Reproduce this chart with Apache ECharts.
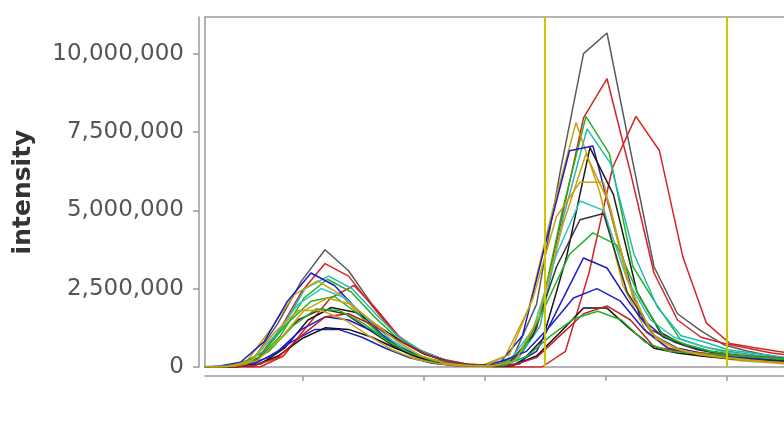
<!DOCTYPE html>
<html>
<head>
<meta charset="utf-8">
<script src="https://cdn.jsdelivr.net/npm/echarts@6/dist/echarts.min.js"></script>
<style>html,body{margin:0;padding:0;background:#fff;}#c{width:784px;height:428px;}</style>
</head>
<body>
<div id="c"></div>
<script>
// retention time (min) axis ticks, no labels shown
const xTicks = [12.0, 13.0, 13.5, 14.5, 15.5];
const yTicks = [0, 2500000, 5000000, 7500000, 10000000];
const boundaryTimes = [14.0, 15.5];
const scanStep = 0.1942;      // minutes between scans
const unit = 1e6;             // intensities below are in millions

const seriesNames = ['s01','s02','s03','s04','s05','s06','s07','s08','s09','s10','s11','s12','s13','s14','s15','s16','s17','s18'];
const startTimes = [11.211, 11.211, 11.256, 11.231, 11.240, 11.149, 11.095, 11.264, 11.182, 11.182, 11.095, 11.211, 11.128, 11.211, 11.211, 11.136, 11.182, 11.231];

const s01 = [0,0.02,0.3,1.4,2.75,3.74,3.07,2.0,1.05,0.5,0.2,0.06,0.04,0.3,2.0,6.2,10.0,10.66,6.9,3.2,1.7,1.15,0.7,0.5,0.35,0.25];
const s02 = [0,0.02,0.15,1.1,2.4,3.3,2.9,1.95,1.05,0.55,0.25,0.1,0.05,0.2,1.2,4.5,7.95,9.2,6.2,3.0,1.5,0.95,0.75,0.6,0.45,0.35];
const s03 = [0,0,0,0.35,1.3,2.2,2.6,1.8,0.9,0.45,0.2,0.05,0,0,0,0.5,3.0,6.35,8.0,6.9,3.5,1.4,0.75,0.62,0.5,0.4];
const s04 = [0,0.02,0.2,1.0,2.2,2.8,2.4,1.6,0.9,0.45,0.2,0.08,0.04,0.25,1.5,5.0,8.0,6.8,3.2,2.0,0.9,0.65,0.5,0.4,0.3,0.22];
const s05 = [0,0.02,0.25,1.2,2.5,2.9,2.5,1.7,0.95,0.5,0.22,0.08,0.04,0.2,1.3,4.8,7.6,6.5,3.6,1.9,1.0,0.8,0.55,0.45,0.35,0.25];
const s06 = [0,0.01,0.2,1.2,2.3,2.75,2.3,1.5,0.8,0.35,0.12,0.03,0.05,0.35,1.9,5.0,7.8,5.6,2.6,1.1,0.6,0.4,0.3,0.2,0.15,0.1];
const s07 = [0,0.02,0.15,0.8,2.1,3.0,2.6,1.8,1.05,0.5,0.2,0.07,0.03,0.1,1.0,4.0,6.9,7.05,4.2,1.6,0.95,0.7,0.5,0.38,0.3,0.22,0.18];
const s08 = [0,0.01,0.1,0.6,1.5,1.9,1.75,1.3,0.8,0.4,0.18,0.06,0.03,0.1,0.9,3.5,7.0,5.5,2.4,1.1,0.7,0.5,0.4,0.3,0.22,0.18];
const s09 = [0,0.02,0.2,1.0,2.0,2.5,2.2,1.5,0.85,0.4,0.15,0.05,0.04,0.2,1.2,3.6,5.3,5.0,2.8,1.5,0.95,0.7,0.5,0.4,0.3,0.22];
const s10 = [0,0.01,0.1,0.7,1.5,1.85,1.7,1.2,0.7,0.35,0.15,0.05,0.03,0.15,1.0,3.2,4.7,4.9,2.4,1.2,0.8,0.55,0.42,0.32,0.25,0.2];
const s11 = [0,0.01,0.1,0.5,1.4,2.1,2.25,1.7,1.0,0.5,0.2,0.07,0.03,0.06,0.5,2.0,3.6,4.28,3.9,2.2,1.0,0.7,0.5,0.38,0.3,0.22,0.18];
const s12 = [0,0.01,0.1,0.5,1.2,1.6,1.5,1.15,0.7,0.35,0.15,0.05,0.02,0.05,0.5,2.0,3.48,3.16,2.0,1.0,0.6,0.45,0.35,0.28,0.22,0.17];
const s13 = [0,0.01,0.05,0.3,0.8,1.2,1.2,0.95,0.6,0.3,0.12,0.04,0.02,0.2,0.5,1.3,2.2,2.5,2.1,1.2,0.6,0.45,0.35,0.28,0.22,0.18];
const s14 = [0,0.01,0.05,0.35,0.9,1.25,1.2,0.95,0.6,0.3,0.12,0.04,0.02,0.05,0.35,1.1,1.88,1.88,1.2,0.6,0.45,0.35,0.28,0.22,0.18,0.15];
const s15 = [0,0.01,0.05,0.3,1.0,1.6,1.7,1.35,0.9,0.5,0.22,0.08,0.03,0.06,0.3,1.0,1.7,1.95,1.5,0.65,0.5,0.45,0.4,0.35,0.3,0.25];
const s16 = [0,0.01,0.08,0.5,1.3,1.85,1.8,1.4,0.85,0.45,0.2,0.07,0.03,0.05,0.35,1.0,1.55,1.78,1.5,0.8,0.5,0.45,0.4,0.35,0.3,0.25];
const s17 = [0,0.01,0.2,1.1,1.8,1.8,1.5,1.0,0.55,0.25,0.1,0.03,0.05,0.4,2.2,4.8,5.9,5.9,2.8,1.1,0.6,0.4,0.3,0.22,0.16,0.12];
const s18 = [0,0.02,0.2,0.9,1.8,2.2,2.0,1.4,0.8,0.35,0.12,0.04,0.03,0.2,1.6,4.5,6.8,5.2,2.2,0.9,0.55,0.4,0.3,0.22,0.16,0.12];
const seriesValues = [s01,s02,s03,s04,s05,s06,s07,s08,s09,s10,s11,s12,s13,s14,s15,s16,s17,s18];

const seriesColors = ['#5a5a5a','#d42424','#d42424','#22b422','#22b8b8','#c8a010','#1c1cc8','#1a1a1a','#2cc4c4','#333333','#22b422','#1c1cc8','#2020c8','#111111','#c82020','#22b422','#c8a010','#c8a010'];

const frameColor = '#9a9a9a';
const xMin = 11.19, xMax = 15.975;

const series = seriesValues.map((vals, i) => ({
  name: seriesNames[i],
  type: 'line',
  symbol: 'none',
  smooth: false,
  clip: true,
  lineStyle: { color: seriesColors[i], width: 1.5 },
  itemStyle: { color: seriesColors[i] },
  data: vals.map((v, k) => [startTimes[i] + k * scanStep, v * unit]),
  z: 2
}));
series.push({
  type: 'line', data: [], symbol: 'none',
  markLine: {
    silent: true, symbol: 'none', label: { show: false },
    lineStyle: { color: '#cfc400', width: 2, type: 'solid' },
    data: boundaryTimes.map(t => ({ xAxis: t }))
  },
  z: 3
});

const frameAxis = (extra) => Object.assign({
  type: 'value', min: xMin, max: xMax,
  axisLine: { show: true, onZero: false, lineStyle: { color: frameColor, width: 1.5 } },
  axisTick: { show: false }, axisLabel: { show: false }, splitLine: { show: false }
}, extra);

const chart = echarts.init(document.getElementById('c'), null, { renderer: 'canvas' });
chart.setOption({
  animation: false,
  backgroundColor: '#ffffff',
  grid: { left: 205, top: 17, bottom: 61, right: 0, show: false },
  xAxis: [
    {
      type: 'value', min: xMin, max: xMax, offset: 9, position: 'bottom',
      axisLine: { show: true, onZero: false, lineStyle: { color: frameColor, width: 1.5 } },
      axisTick: { show: true, length: 5, customValues: xTicks, lineStyle: { color: frameColor, width: 1.5 } },
      axisLabel: { show: false },
      splitLine: { show: false }
    },
    frameAxis({ position: 'bottom', offset: 0 }),
    frameAxis({ position: 'top', offset: 0 })
  ],
  yAxis: [
    {
      type: 'value', min: 0, max: 11170000, interval: 2500000, offset: 6, position: 'left',
      name: 'intensity', nameLocation: 'middle', nameGap: 163,
      nameTextStyle: { fontFamily: 'DejaVu Sans', fontSize: 25, fontWeight: 'bold', color: '#333' },
      axisLine: { show: true, onZero: false, lineStyle: { color: frameColor, width: 1.5 } },
      axisTick: { show: true, length: 6, customValues: yTicks, lineStyle: { color: frameColor, width: 1.5 } },
      axisLabel: { margin: 15, customValues: yTicks, fontFamily: 'DejaVu Sans', fontSize: 23, color: '#555',
        formatter: v => Number(v).toLocaleString('en-US') },
      splitLine: { show: false }
    },
    {
      type: 'value', min: 0, max: 11170000, position: 'left', offset: 0,
      axisLine: { show: true, onZero: false, lineStyle: { color: frameColor, width: 1.5 } },
      axisTick: { show: false }, axisLabel: { show: false }, splitLine: { show: false }
    }
  ],
  series: series
});
</script>
</body>
</html>
